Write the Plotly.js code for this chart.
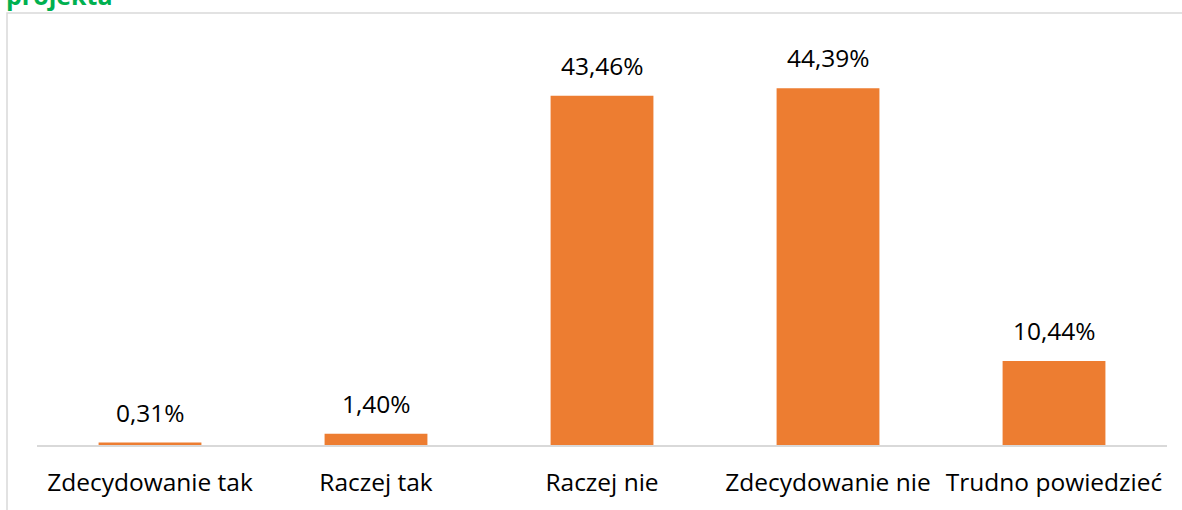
<!DOCTYPE html>
<html>
<head>
<meta charset="utf-8">
<script src="https://cdn.plot.ly/plotly-3.0.1.min.js"></script>
<style>html,body{margin:0;padding:0;background:#fff;}#chart{width:1182px;height:510px;}</style>
</head>
<body>
<div id="chart"></div>
<script>
const categories = ["Zdecydowanie tak", "Raczej tak", "Raczej nie", "Zdecydowanie nie", "Trudno powiedzieć"];
const values = [0.31, 1.40, 43.46, 44.39, 10.44];
const valueLabels = ["0,31%", "1,40%", "43,46%", "44,39%", "10,44%"];
const titleText = "projekta";

const FONT = "Open Sans, Noto Sans, sans-serif";

const trace = {
  type: "bar",
  x: categories,
  y: values,
  marker: {color: "#ED7D31"},
  hoverinfo: "skip"
};

const annotations = categories.map((c, i) => ({
  x: c, y: values[i], xref: "x", yref: "y",
  text: valueLabels[i], showarrow: false,
  yanchor: "bottom", yshift: 12,
  font: {family: FONT, size: 24.5, color: "#000"}
}));

annotations.push({
  xref: "paper", yref: "paper",
  x: (4 - 37) / 1130, y: (445 - 14) / 380,
  xanchor: "left", yanchor: "bottom",
  text: "<b>" + titleText + "</b>", showarrow: false,
  font: {family: FONT, size: 25, color: "#00B050"}
});

const layout = {
  width: 1182, height: 510,
  margin: {l: 37, r: 15, t: 65, b: 65},
  paper_bgcolor: "#fff", plot_bgcolor: "#fff",
  bargap: 0.545,
  showlegend: false,
  xaxis: {
    showline: true, linecolor: "#d9d9d9", linewidth: 1.5,
    ticks: "", showgrid: false, zeroline: false,
    tickfont: {family: FONT, size: 24.5, color: "#000"},
    ticklabelstandoff: 15,
    fixedrange: true
  },
  yaxis: {
    range: [0, 47.28],
    visible: false, showgrid: false, zeroline: false,
    fixedrange: true
  },
  shapes: [{
    type: "rect", xref: "paper", yref: "paper",
    x0: (7 - 37) / 1130, x1: 1.2,
    y0: -0.3, y1: (445 - 13) / 380,
    line: {color: "#d9d9d9", width: 1.5},
    fillcolor: "rgba(0,0,0,0)", layer: "below"
  }],
  annotations: annotations
};

Plotly.newPlot("chart", [trace], layout, {displayModeBar: false, staticPlot: true});
</script>
</body>
</html>
